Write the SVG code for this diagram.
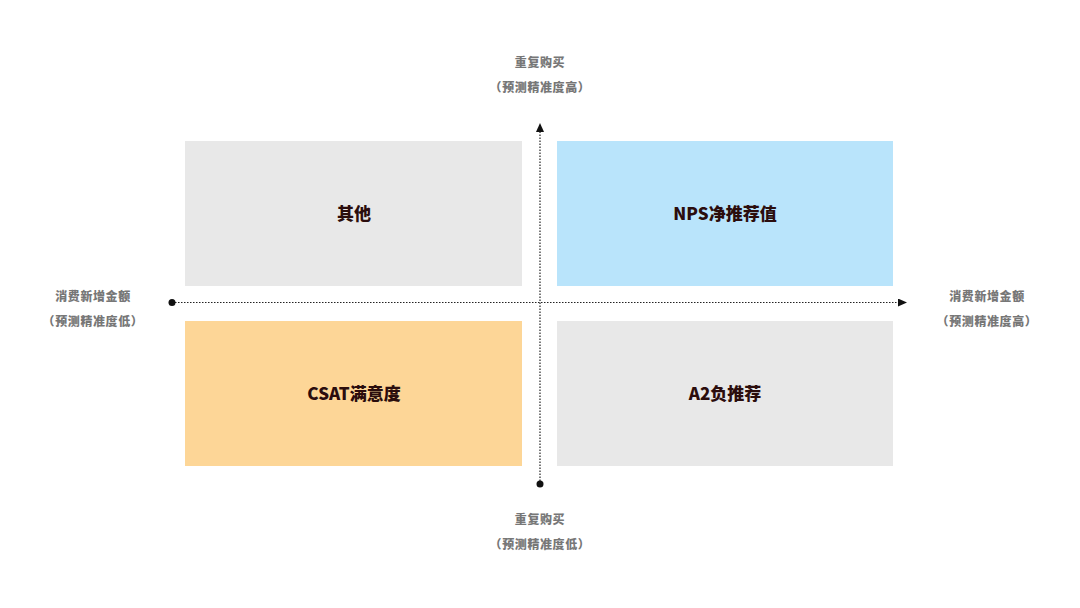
<svg xmlns="http://www.w3.org/2000/svg" width="1080" height="608" viewBox="0 0 1080 608">
<defs>
<style>
.q{font-family:"Noto Sans CJK SC","Noto Sans",sans-serif;font-size:17px;font-weight:900;fill:#2b0d0d;text-anchor:middle}
.a{font-family:"Noto Sans CJK SC","Noto Sans",sans-serif;font-size:12px;font-weight:900;fill:#777;text-anchor:middle;letter-spacing:0.6px}
.ax{stroke:#222;stroke-width:1.2;stroke-dasharray:1.5 1.5;fill:none}
</style>
<marker id="arr" markerWidth="10" markerHeight="10" refX="8" refY="4" orient="auto" markerUnits="userSpaceOnUse">
<path d="M0,0 L9,4 L0,8 Z" fill="#111"/>
</marker>
</defs>
<rect width="1080" height="608" fill="#fff"/>
<g id="q-other"><rect x="185" y="141" width="337" height="145" fill="#e8e8e8"/><text class="q" x="354" y="220">其他</text></g>
<g id="q-nps"><rect x="557" y="141" width="336" height="145" fill="#b9e4fb"/><text class="q" x="725" y="220">NPS净推荐值</text></g>
<g id="q-csat"><rect x="185" y="321" width="337" height="145" fill="#fdd697"/><text class="q" x="354" y="400">CSAT满意度</text></g>
<g id="q-a2"><rect x="557" y="321" width="336" height="145" fill="#e8e8e8"/><text class="q" x="725" y="400">A2负推荐</text></g>
<g id="connectors">
<line class="ax" x1="172" y1="302.5" x2="906" y2="302.5" marker-end="url(#arr)"/>
<circle cx="172" cy="302.5" r="3.5" fill="#111"/>
<line class="ax" x1="540" y1="484" x2="540" y2="124" marker-end="url(#arr)"/>
<circle cx="540" cy="484" r="3.5" fill="#111"/>
</g>
<g id="lbl-top"><text class="a" x="540" y="67">重复购买</text><text class="a" x="540" y="92">（预测精准度高）</text></g>
<g id="lbl-bottom"><text class="a" x="540" y="524">重复购买</text><text class="a" x="540" y="549">（预测精准度低）</text></g>
<g id="lbl-left"><text class="a" x="93" y="301">消费新增金额</text><text class="a" x="93" y="326">（预测精准度低）</text></g>
<g id="lbl-right"><text class="a" x="987" y="301">消费新增金额</text><text class="a" x="987" y="326">（预测精准度高）</text></g>
</svg>
